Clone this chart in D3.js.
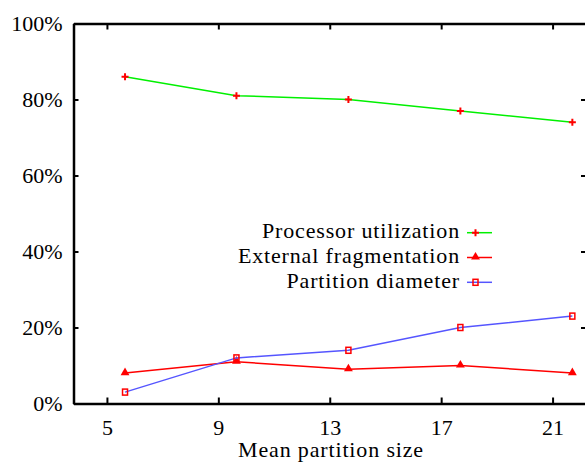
<!DOCTYPE html>
<html>
<head>
<meta charset="utf-8">
<script src="https://cdn.jsdelivr.net/npm/d3@7"></script>
<style>
    html, body { margin: 0; padding: 0; background: #fff; overflow: hidden; }
    svg { display: block; }
</style>
</head>
<body>
<div id="chart-container"></div>
<script>
// Data
const partitionSizes = [5.65, 9.65, 13.67, 17.69, 21.71]
const processorUtilization = [86, 81, 80, 77, 74]
const externalFragmentation = [8, 11, 9, 10, 8]
const partitionDiameter = [3, 12, 14, 20, 23]
const xTicks = [5, 9, 13, 17, 21]
const yTicks = [0, 20, 40, 60, 80, 100]
const seriesNames = ['Processor utilization', 'External fragmentation', 'Partition diameter']

const width = 585
const height = 462
const serifFont = "'Liberation Serif'"
const fontSize = '22px'

const series = [
    { name: seriesNames[0], values: processorUtilization, color: '#00f000', marker: 'plus' },
    { name: seriesNames[1], values: externalFragmentation, color: '#ff0000', marker: 'triangle' },
    { name: seriesNames[2], values: partitionDiameter, color: '#5555ff', marker: 'square' }
]

const xScale = d3.scaleLinear()
    .domain([3.8, 22.2])
    .range([73.5, 586])
const yScale = d3.scaleLinear()
    .domain([0, 100])
    .range([403.5, 23.5])

const svg = d3.select('#chart-container')
    .append('svg')
    .attr('width', width)
    .attr('height', height)

// Axes (gnuplot style: ticks pointing inward, mirrored on top and right)
const xAxisBottom = d3.axisBottom(xScale).tickValues(xTicks).tickSize(-6).tickPadding(16).tickSizeOuter(0)
const xAxisTop = d3.axisTop(xScale).tickValues(xTicks).tickSize(-6).tickFormat('').tickSizeOuter(0)
const yAxisLeft = d3.axisLeft(yScale).tickValues(yTicks).tickSize(-5).tickPadding(11)
    .tickFormat(d => d + '%').tickSizeOuter(0)
const yAxisRight = d3.axisRight(yScale).tickValues(yTicks).tickSize(-5).tickFormat('').tickSizeOuter(0)

function styleAxis(g) {
    g.select('.domain').attr('stroke', '#000').attr('stroke-width', 2.5)
    g.selectAll('.tick line').attr('stroke', '#000').attr('stroke-width', 2)
    g.selectAll('.tick text')
        .attr('fill', '#000')
        .style('font-family', serifFont)
        .style('font-size', fontSize)
}

svg.append('g')
    .attr('transform', 'translate(0,' + yScale(0) + ')')
    .call(xAxisBottom)
    .call(styleAxis)
svg.append('g')
    .attr('transform', 'translate(0,' + yScale(100) + ')')
    .call(xAxisTop)
    .call(styleAxis)
svg.append('g')
    .attr('transform', 'translate(' + xScale(3.8) + ',0)')
    .call(yAxisLeft)
    .call(styleAxis)
svg.append('g')
    .attr('transform', 'translate(' + xScale(22.2) + ',0)')
    .call(yAxisRight)
    .call(styleAxis)

svg.append('text')
    .attr('x', 331)
    .attr('y', 457)
    .attr('text-anchor', 'middle')
    .style('font-family', serifFont)
    .style('font-size', fontSize)
    .style('letter-spacing', '0.85px')
    .text('Mean partition size')

function drawMarker(g, type, x, y) {
    if (type === 'plus') {
        g.append('path')
            .attr('d', 'M' + (x - 3.5) + ',' + y + 'H' + (x + 3.5) + 'M' + x + ',' + (y - 3.5) + 'V' + (y + 3.5))
            .attr('stroke', '#ff0000')
            .attr('stroke-width', 2)
            .attr('fill', 'none')
    } else if (type === 'triangle') {
        g.append('path')
            .attr('d', d3.symbol().type(d3.symbolTriangle).size(34)())
            .attr('transform', 'translate(' + x + ',' + (y - 0.5) + ')')
            .attr('fill', '#ff0000')
    } else {
        g.append('rect')
            .attr('x', x - 2.5)
            .attr('y', y - 3)
            .attr('width', 5)
            .attr('height', 6)
            .attr('fill', 'none')
            .attr('stroke', '#ff0000')
            .attr('stroke-width', 1.5)
    }
}

const line = d3.line()
    .x((d, i) => xScale(partitionSizes[i]))
    .y(d => yScale(d))

const plot = svg.append('g').attr('id', 'plot')
series.forEach(s => {
    plot.append('path')
        .datum(s.values)
        .attr('d', line)
        .attr('fill', 'none')
        .attr('stroke', s.color)
        .attr('stroke-width', 1.5)
    s.values.forEach((v, i) => drawMarker(plot, s.marker, xScale(partitionSizes[i]), yScale(v)))
})

// Legend
const legend = svg.append('g').attr('id', 'legend')
series.forEach((s, i) => {
    const y = 232.7 + i * 24.8
    legend.append('text')
        .attr('x', 460)
        .attr('y', y + 5.5)
        .attr('text-anchor', 'end')
        .style('font-family', serifFont)
        .style('font-size', fontSize)
        .style('letter-spacing', '0.85px')
        .text(s.name)
    legend.append('line')
        .attr('x1', 467)
        .attr('x2', 492)
        .attr('y1', y)
        .attr('y2', y)
        .attr('stroke', s.color)
        .attr('stroke-width', 1.5)
    drawMarker(legend, s.marker, 475.5, y)
})
</script>
</body>
</html>
